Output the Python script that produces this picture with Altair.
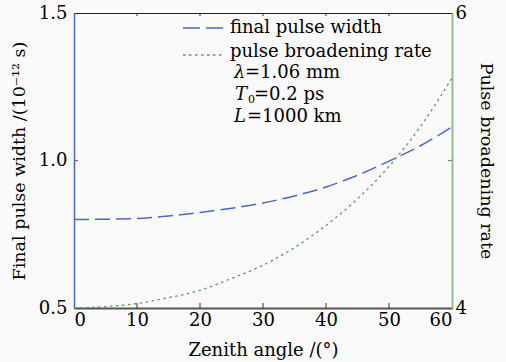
import altair as alt
import pandas as pd

# Zenith angle (degrees) and the two computed quantities
angles = [0, 5, 10, 15, 20, 25, 30, 35, 40, 45, 50, 55, 60]
final_width = [0.800, 0.801, 0.803, 0.812, 0.824, 0.838, 0.856, 0.880, 0.910, 0.950, 0.998, 1.050, 1.114]
broadening_rate = [4.00, 4.01, 4.03, 4.07, 4.12, 4.20, 4.29, 4.41, 4.56, 4.74, 4.96, 5.23, 5.56]

x_ticks = [0, 10, 20, 30, 40, 50, 60]
left_ticks = [0.5, 1.0, 1.5]
right_ticks = [4, 5, 6]

W, H = 378, 295
FONT = "DejaVu Serif"
BLUE = "#4a68c8"
GREEN = "#5e9a5e"
BG = "#fafafa"
DASH = [15, 6]
DOT = [2.5, 3.5]

df = pd.DataFrame({"angle": angles, "width": final_width, "rate": broadening_rate})
ticks_df = pd.DataFrame({"t": x_ticks[1:-1]})

x_enc = alt.X(
    "angle:Q",
    scale=alt.Scale(domain=[0, 60], nice=False),
    axis=alt.Axis(
        values=x_ticks, tickSize=0, grid=False, domainColor="#555555", domainWidth=2,
        labelPadding=3, title="Zenith angle /(°)", titleBaseline="middle", titleY=42,
    ),
)

width_line = alt.Chart(df).mark_line(
    color=BLUE, strokeDash=DASH, strokeWidth=1.5, interpolate="monotone"
).encode(
    x=x_enc,
    y=alt.Y(
        "width:Q",
        scale=alt.Scale(domain=[0.5, 1.5], nice=False, zero=False),
        axis=alt.Axis(
            orient="left", values=left_ticks, format=".1f", tickSize=0, grid=False,
            domainColor=BLUE, domainWidth=1.5, labelPadding=7,
            title="Final pulse width /(10⁻¹² s)", titleBaseline="middle",
            titleFontSize=17.5, titleX=-55, titleY=H / 2,
        ),
    ),
)

rate_line = alt.Chart(df).mark_line(
    color=GREEN, strokeDash=DOT, strokeWidth=1.3, interpolate="monotone"
).encode(
    x=alt.X("angle:Q"),
    y=alt.Y(
        "rate:Q",
        scale=alt.Scale(domain=[4, 6], nice=False, zero=False),
        axis=alt.Axis(
            orient="right", values=right_ticks, format="d", tickSize=0, grid=False,
            domainColor="#8fbf8f", domainWidth=2, labelPadding=3,
            title="Pulse broadening rate", titleBaseline="middle",
            titleFontSize=17.5, titleX=33, titleY=H / 2,
        ),
    ),
)

# inward tick marks on the frame
bottom_ticks = alt.Chart(ticks_df).mark_rule(color="#333333", strokeWidth=1).encode(
    x="t:Q", y=alt.value(H), y2=alt.value(H - 5)
)
top_ticks = alt.Chart(ticks_df).mark_rule(color="#333333", strokeWidth=1).encode(
    x="t:Q", y=alt.value(0), y2=alt.value(3)
)
left_mid = alt.Chart(pd.DataFrame({"v": [1.0]})).mark_rule(color=BLUE, strokeWidth=1.2).encode(
    y=alt.Y("v:Q", scale=alt.Scale(domain=[0.5, 1.5], nice=False, zero=False), axis=None),
    x=alt.value(0), x2=alt.value(4),
)
right_mid = alt.Chart(pd.DataFrame({"v": [5]})).mark_rule(color=GREEN, strokeWidth=1.2).encode(
    y=alt.Y("v:Q", scale=alt.Scale(domain=[4, 6], nice=False, zero=False), axis=None),
    x=alt.value(W - 4), x2=alt.value(W),
)

# legend samples and parameter notes
leg_blue = alt.Chart(df.head(1)).mark_rule(color=BLUE, strokeDash=[17, 6], strokeWidth=1.5).encode(
    x=alt.value(109), x2=alt.value(149), y=alt.value(15)
)
leg_green = alt.Chart(df.head(1)).mark_rule(color=GREEN, strokeDash=DOT, strokeWidth=1.3).encode(
    x=alt.value(109), x2=alt.value(148), y=alt.value(42)
)


def note(text, x, y, italic=False, size=18):
    return alt.Chart(df.head(1)).mark_text(
        text=text, font=FONT, fontSize=size, align="left", baseline="alphabetic",
        color="black", fontStyle="italic" if italic else "normal",
    ).encode(x=alt.value(x), y=alt.value(y))


notes = [
    note("final pulse width", 156, 20),
    note("pulse broadening rate", 156, 44),
    note("λ", 160, 65, italic=True),
    note("=1.06 mm", 171, 65),
    note("T", 161, 87, italic=True),
    note("0", 174, 90, size=11),
    note("=0.2 ps", 180, 87),
    note("L", 160, 109, italic=True),
    note("=1000 km", 173, 109),
]

chart = alt.layer(
    width_line, rate_line, left_mid, right_mid, bottom_ticks, top_ticks,
    leg_blue, leg_green, *notes
).resolve_scale(y="independent").properties(
    width=W, height=H,
    autosize=alt.AutoSizeParams(type="none"),
    padding={"left": 74, "top": 13, "right": 54, "bottom": 54},
    background=BG,
).configure(
    font=FONT
).configure_view(
    stroke="#222222", strokeWidth=1
).configure_axis(
    labelFont=FONT, labelFontSize=18, labelColor="black",
    titleFont=FONT, titleFontSize=18, titleFontWeight="normal", titleColor="black",
)

chart.save("out.html", embed_options={"renderer": "svg", "actions": False})
